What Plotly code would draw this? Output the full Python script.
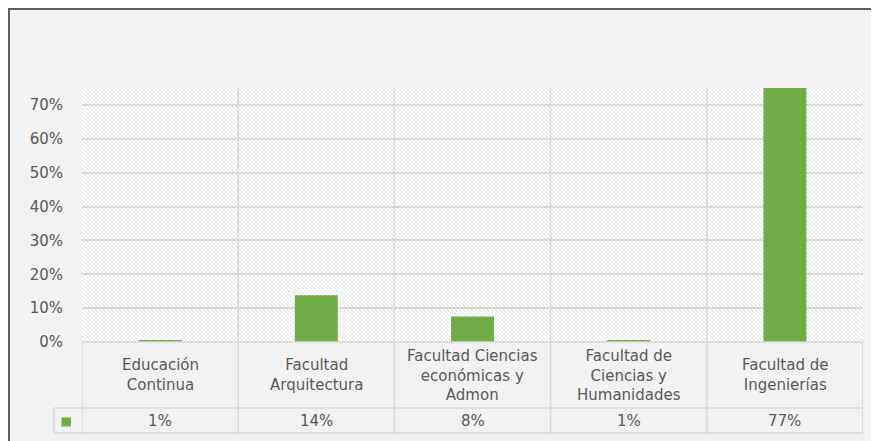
import base64
import plotly.graph_objects as go

# data
categories = [
    "Educación<br>Continua",
    "Facultad<br>Arquitectura",
    "Facultad Ciencias<br>económicas y<br>Admon",
    "Facultad de<br>Ciencias y<br>Humanidades",
    "Facultad de<br>Ingenierías",
]
shares = [0.003, 0.138, 0.075, 0.003, 0.77]
table_labels = ["1%", "14%", "8%", "1%", "77%"]
y_ticks = [0, 0.1, 0.2, 0.3, 0.4, 0.5, 0.6, 0.7]

GREEN = "#70AD47"
GRID = "#D9D9D9"
TEXT = "#595959"
FONT = "DejaVu Sans"

# the page body keeps an 8px margin, so the figure starts at (8, 8) of the window,
# which is where the chart frame sits in the reference
OFF = 8
W, H = 879 - OFF, 441 - OFF
ML, MR, MT, MB = 82 - OFF, 16, 88 - OFF, 8
PW, PH = W - ML - MR, H - MT - MB


def px_x(p):  # window pixel -> paper x
    return (p - OFF - ML) / PW


def px_y(p):  # window pixel -> paper y
    return (H - MB - (p - OFF)) / PH


y_bottom = px_y(342)   # top of the data table / 0% line
row_split = px_y(408)  # line between category row and value row

# diagonal hatch for the plot background
hatch_svg = (
    f'<svg xmlns="http://www.w3.org/2000/svg" width="{PW}" height="254" '
    f'viewBox="0 0 {PW} 254" preserveAspectRatio="none">'
    '<defs><pattern id="h" width="4" height="4" patternUnits="userSpaceOnUse">'
    '<rect width="4" height="4" fill="#ffffff"/>'
    '<path d="M-1,-1 L5,5 M-1,3 L1,5 M3,-1 L5,1" stroke="#d4d4d4" stroke-width="0.8"/>'
    '</pattern></defs><rect width="100%" height="100%" fill="url(#h)"/></svg>'
)
hatch_uri = "data:image/svg+xml;base64," + base64.b64encode(hatch_svg.encode()).decode()

fig = go.Figure(go.Bar(
    x=categories,
    y=shares,
    width=0.275,
    marker=dict(color=GREEN, line=dict(width=0)),
    hovertemplate="%{x}: %{y:.0%}<extra></extra>",
))

shapes = []
# chart frame (top and left edges are the only visible ones)
shapes.append(dict(type="line", xref="paper", yref="paper", x0=px_x(8), x1=px_x(900),
                   y0=px_y(9), y1=px_y(9), line=dict(color="#5f5f5f", width=2)))
shapes.append(dict(type="line", xref="paper", yref="paper", x0=px_x(9), x1=px_x(9),
                   y0=px_y(460), y1=px_y(8), line=dict(color="#5f5f5f", width=2)))

# category boundaries: through plot and table inside, table only on the outer edges
for i in range(len(categories) + 1):
    top = 1 if 0 < i < len(categories) else y_bottom
    shapes.append(dict(type="line", xref="x", yref="paper", x0=i - 0.5, x1=i - 0.5,
                       y0=0, y1=top, line=dict(color=GRID, width=1.5)))

# table horizontal lines and the legend-key cell
shapes.append(dict(type="line", xref="paper", yref="paper", x0=0, x1=1,
                   y0=y_bottom, y1=y_bottom, line=dict(color=GRID, width=1.5)))
for yy in (row_split, 0):
    shapes.append(dict(type="line", xref="paper", yref="paper", x0=px_x(54), x1=1,
                       y0=yy, y1=yy, line=dict(color=GRID, width=1.5)))
shapes.append(dict(type="line", xref="paper", yref="paper", x0=px_x(54), x1=px_x(54),
                   y0=0, y1=row_split, line=dict(color=GRID, width=1.5)))
shapes.append(dict(type="rect", xref="paper", yref="paper", x0=px_x(61.5), x1=px_x(71),
                   y0=px_y(426.5), y1=px_y(417.5), fillcolor=GREEN, line=dict(width=0)))

annotations = []
for cat, lab in zip(categories, table_labels):
    annotations.append(dict(x=cat, y=(y_bottom + row_split) / 2, xref="x", yref="paper",
                            text=cat, showarrow=False, yanchor="middle",
                            font=dict(size=15, color=TEXT, family=FONT)))
    annotations.append(dict(x=cat, y=row_split / 2, xref="x", yref="paper",
                            text=lab, showarrow=False, yanchor="middle",
                            font=dict(size=15, color=TEXT, family=FONT)))

fig.update_layout(
    width=W, height=H,
    margin=dict(l=ML, r=MR, t=MT, b=MB, pad=0),
    paper_bgcolor="#F2F2F2",
    plot_bgcolor="white",
    showlegend=False,
    font=dict(family=FONT, color=TEXT, size=15),
    shapes=shapes,
    annotations=annotations,
    images=[dict(source=hatch_uri, xref="x domain", yref="y domain", x=0, y=1,
                 sizex=1, sizey=1, xanchor="left", yanchor="top",
                 sizing="stretch", layer="below")],
    xaxis=dict(type="category", range=[-0.5, len(categories) - 0.5],
               showticklabels=False, showgrid=False, zeroline=False,
               showline=False, ticks="", fixedrange=True, automargin=False),
    yaxis=dict(domain=[y_bottom, 1], range=[0, 0.75], tickvals=y_ticks,
               tickformat=".0%", showgrid=True, gridcolor=GRID, gridwidth=1.5,
               zeroline=False, showline=False, ticks="", ticklabelstandoff=18,
               tickfont=dict(size=15, color=TEXT, family=FONT), fixedrange=True,
               automargin=False),
)

fig.write_html("out.html")
